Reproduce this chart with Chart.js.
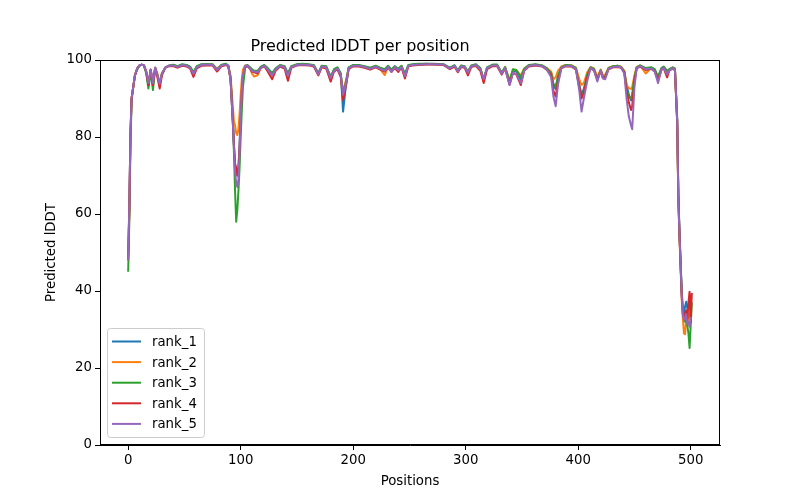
<!DOCTYPE html>
<html>
<head>
<meta charset="utf-8">
<script src="https://cdn.jsdelivr.net/npm/chart.js@4.4.1/dist/chart.umd.min.js"></script>
<style>
  body { margin: 0; background: #fff; }
  canvas { display: block; }
</style>
</head>
<body>
<canvas id="plddt" width="800" height="500"></canvas>
<script>
var positions = [
  0,1,2,3,4,5,6,8,10,12,14,16,18,20,22,24,26,28,30,33,36,
  40,44,48,52,55,58,61,65,70,75,79,83,87,
  89,91,93,94,95,96,97,98,99,100,101,102,104,
  106,108,110,112,115,118,121,124,128,131,135,139,142,145,150,155,160,165,169,172,176,180,183,186,189,191,193,196,200,
  205,210,215,220,224,228,231,234,237,240,243,246,249,253,258,265,272,280,
  286,290,293,296,299,302,305,309,313,316,319,324,328,332,335,339,342,345,349,352,356,362,368,372,
  376,378,380,382,385,389,394,398,401,403,405,408,411,414,417,420,422,424,427,431,435,438,
  441,443,445,447,448,450,452,455,460,465,468,471,474,476,479,481,484,486,
  488,489,490,491,492,493,494,495,496,497,498,499,500,501
];

var rank1 = [
  49,62,80,90,92,94,96,97.8,98.5,98.8,98.6,97,93.5,97.5,93.5,98,96,93.5,96.5,98,98.5,
  98.7,98.3,98.8,98.6,98.2,96.8,98.3,98.8,98.9,98.8,97.6,98.7,98.9,
  98.5,95,84,78,73,71,70,72,78,86,92,96,98.5,
  98.6,98.0,97.5,97.0,97.0,98.2,98.6,97.8,96.5,97.8,98.6,98.3,96.5,98.3,98.8,98.9,98.8,98.6,96.5,98.4,98.3,95.6,97.5,98.0,96.5,86.6,92.0,98.0,98.6,
  98.6,98.3,97.9,98.4,97.9,97.5,98.4,97.4,98.3,97.6,98.4,96.2,98.6,98.8,98.9,99.0,98.9,98.9,
  97.9,98.6,97.2,98.5,98.3,96.9,98.5,98.8,97.8,94.8,98.0,98.7,98.7,96.6,98.0,94.2,97.2,97.0,95.0,97.5,98.6,98.8,98.5,97.8,
  96.5,93.5,92.5,95.5,98.0,98.6,98.5,97.8,93.5,91.0,92.5,96.0,98.0,97.6,95.2,97.4,95.6,95.8,97.8,98.3,98.4,98.2,
  97.0,93.5,91.0,89.5,90.5,95.0,98.0,98.5,97.8,98.0,97.5,95.5,97.8,98.2,97.0,97.5,98.0,97.6,
  85,66,56,48,40,35,34,36,37.2,35.5,36.5,35.5,37,37
];

var rank2 = [
  50,60,79,90,92,94,96,97.8,98.6,98.8,98.6,97,94,97.5,94,98,96.5,94,96.5,98,98.5,
  98.6,98.4,98.7,98.5,98.0,96.5,98.2,98.7,98.8,98.8,97.8,98.6,98.8,
  98.5,96,88,84,83,81,80.5,82,86,91,95,97.5,98.6,
  98.6,98.0,96.5,95.7,96.0,98.0,98.6,97.6,96.2,97.6,98.5,98.2,96.0,98.2,98.7,98.8,98.8,98.5,96.3,98.2,98.2,95.5,97.4,97.9,96.0,92.0,94.0,97.8,98.5,
  98.5,98.2,97.7,98.3,97.6,96.1,98.2,97.2,98.2,97.4,98.3,96.0,98.5,98.7,98.8,98.9,98.9,98.8,
  97.8,98.5,97.0,98.4,98.2,96.8,98.4,98.7,97.7,94.8,97.9,98.6,98.6,96.5,98.1,94.5,97.5,97.3,96.0,97.8,98.6,98.8,98.5,97.9,
  97.0,95.0,95.5,97.2,98.3,98.7,98.6,98.0,95.0,93.5,94.0,96.8,98.2,97.8,95.6,97.5,96.0,96.2,98.0,98.4,98.5,98.3,
  97.2,93.5,92.7,92.5,93.0,96.0,98.2,98.6,96.5,98.0,97.3,95.3,97.6,98.1,96.6,97.4,98.0,97.5,
  84,64,54,46,38,33,29,28.8,33,31,34,33,36,36
];

var rank3 = [
  45,58,78,89,92,94,96,97.5,98.5,98.8,98.6,96.5,92.6,97,92.2,97.8,96,93.5,96.5,98,98.5,
  98.8,98.4,98.9,98.7,98.3,96.8,98.4,98.9,98.9,98.9,97.5,98.8,99.0,
  98.5,95.5,85,76,66,58,61,66,72,80,87,93,98,
  98.7,98.2,97.6,97.2,97.2,98.3,98.7,97.9,96.6,97.8,98.7,98.4,96.4,98.4,98.9,99.0,98.9,98.7,96.6,98.5,98.4,95.6,97.6,98.1,96.4,91.0,93.5,98.1,98.7,
  98.7,98.4,98.0,98.5,98.0,97.6,98.5,97.5,98.4,97.7,98.5,96.4,98.7,98.9,99.0,99.0,99.0,98.9,
  98.0,98.6,97.3,98.6,98.4,97.0,98.6,98.9,97.9,95.0,98.1,98.8,98.8,96.7,98.2,94.6,97.6,97.4,95.5,97.7,98.7,98.9,98.6,97.9,
  96.5,93.8,93.0,95.8,98.1,98.7,98.6,97.9,93.0,90.5,92.0,96.2,98.1,97.7,94.8,97.3,95.3,95.6,97.9,98.4,98.5,98.2,
  97.0,92.5,90.5,90.0,91.0,95.5,98.1,98.6,97.9,98.1,97.6,95.6,97.9,98.3,97.2,97.6,98.1,97.8,
  84,65,55,47,40,35,33,32,33,31,29,25.2,31,37
];

var rank4 = [
  48,61,81,90,92,94,96,97.8,98.6,98.8,98.6,97,93.5,97.5,93.5,98,95.5,92.6,96,98,98.4,
  98.4,98.0,98.5,98.3,97.8,95.6,97.8,98.5,98.6,98.6,97.0,98.4,98.7,
  98.3,95,84,78,73,72,70,72,77,85,92,96,98.3,
  98.4,97.8,97.0,96.8,96.5,97.9,98.4,97.0,95.0,97.2,98.3,97.8,94.6,98.0,98.6,98.7,98.6,98.3,96.0,98.1,97.8,94.4,97.0,97.6,95.5,89.6,92.5,97.6,98.4,
  98.3,98.0,97.5,98.1,97.5,97.0,98.0,96.9,97.9,96.9,98.0,95.2,98.3,98.6,98.7,98.8,98.8,98.7,
  97.6,98.3,96.8,98.2,98.0,96.0,98.2,98.5,97.2,94.0,97.6,98.4,98.4,96.2,97.8,93.6,96.6,96.3,93.5,97.2,98.3,98.6,98.3,97.5,
  96.0,92.0,90.5,94.5,97.8,98.4,98.3,97.5,93.0,90.0,91.5,95.5,97.8,97.3,95.0,97.2,95.4,95.4,97.6,98.1,98.2,98.0,
  96.8,92.0,89.0,87.0,88.0,94.5,97.8,98.3,97.4,97.7,97.0,94.8,97.4,97.9,95.5,97.2,97.8,97.3,
  84,65,55,47,39,34,33,34,35,32,37,39.8,31.8,39.5
];

var rank5 = [
  48,62,80,90,92,94,96,97.8,98.6,98.8,98.6,97,94,97.5,94,98,96,93.8,96.5,98,98.5,
  98.6,98.2,98.7,98.5,98.0,96.4,98.1,98.7,98.8,98.7,97.4,98.6,98.8,
  98.5,95,84,77,71,68,67,69,76,85,92,96,98.5,
  98.5,97.9,97.2,97.0,96.8,98.0,98.5,97.5,96.0,97.5,98.5,98.1,95.8,98.2,98.7,98.8,98.7,98.5,96.3,98.3,98.1,95.3,97.2,97.8,96.0,91.0,93.0,97.9,98.5,
  98.5,98.2,97.7,98.3,97.7,97.2,98.2,96.9,98.2,97.3,98.2,95.8,98.5,98.7,98.8,98.9,98.9,98.8,
  97.8,98.5,97.0,98.4,98.2,96.7,98.4,98.7,97.6,95.0,97.9,98.6,98.6,96.4,97.9,93.5,96.6,96.4,94.0,97.3,98.5,98.7,98.4,97.6,
  95.5,90.5,88.0,93.5,97.9,98.5,98.4,97.6,92.0,86.6,90.0,94.5,97.9,97.4,94.4,97.2,95.2,95.0,97.7,98.2,98.3,98.1,
  96.5,90.0,85.3,83.0,82.0,93.0,97.9,98.4,97.6,97.8,97.0,94.0,97.5,98.0,96.2,97.3,97.9,97.4,
  84,64,55,47,39,34,32.5,33,34,31.5,32,30.7,33,33
];

var rankNames = ["rank_1", "rank_2", "rank_3", "rank_4", "rank_5"];
var rankValues = [rank1, rank2, rank3, rank4, rank5];
var rankColors = ["#1f77b4", "#ff7f0e", "#2ca02c", "#d62728", "#9467bd"];

var xTicks = [0, 100, 200, 300, 400, 500];
var yTicks = [0, 20, 40, 60, 80, 100];

var FONT = "'DejaVu Sans', sans-serif";

var datasets = [];
for (let i = 0; i < rankNames.length; i++) {
    var pts = [];
    for (let j = 0; j < positions.length; j++) {
        pts.push({x: positions[j], y: rankValues[i][j]});
    }
    datasets.push({
        label: rankNames[i],
        data: pts,
        borderColor: rankColors[i],
        backgroundColor: rankColors[i],
        borderWidth: 2,
        borderJoinStyle: "round",
        pointRadius: 0,
        tension: 0,
        fill: false,
        order: rankNames.length - i   // later ranks on top, like matplotlib
    });
}

// frame round the plot area + legend box in the lower left
var framePlugin = {
    id: "frame",
    afterDraw: function(chart) {
        var ctx = chart.ctx;
        var a = chart.chartArea;
        ctx.save();
        ctx.strokeStyle = "#000";
        ctx.lineWidth = 1;
        ctx.strokeRect(Math.round(a.left) + 0.5, Math.round(a.top) + 0.5,
                       Math.round(a.right - a.left) - 1, Math.round(a.bottom - a.top) - 1);

        // legend
        var bx = 107.5, by = 328.5, bw = 97, bh = 109, r = 3;
        ctx.beginPath();
        ctx.moveTo(bx + r, by);
        ctx.lineTo(bx + bw - r, by);
        ctx.quadraticCurveTo(bx + bw, by, bx + bw, by + r);
        ctx.lineTo(bx + bw, by + bh - r);
        ctx.quadraticCurveTo(bx + bw, by + bh, bx + bw - r, by + bh);
        ctx.lineTo(bx + r, by + bh);
        ctx.quadraticCurveTo(bx, by + bh, bx, by + bh - r);
        ctx.lineTo(bx, by + r);
        ctx.quadraticCurveTo(bx, by, bx + r, by);
        ctx.closePath();
        ctx.fillStyle = "rgba(255,255,255,0.8)";
        ctx.fill();
        ctx.strokeStyle = "#cccccc";
        ctx.stroke();

        ctx.font = "13.3px " + FONT;
        ctx.textBaseline = "middle";
        ctx.textAlign = "left";
        for (let i = 0; i < rankNames.length; i++) {
            var yy = 341.5 + i * 20.6;
            ctx.beginPath();
            ctx.strokeStyle = rankColors[i];
            ctx.lineWidth = 2;
            ctx.moveTo(112, yy);
            ctx.lineTo(141, yy);
            ctx.stroke();
            ctx.fillStyle = "#000";
            ctx.fillText(rankNames[i], 152, yy + 1);
        }
        ctx.restore();
    }
};

var chart = new Chart(document.getElementById("plddt"), {
    type: "line",
    data: {datasets: datasets},
    options: {
        responsive: false,
        animation: false,
        devicePixelRatio: 1,
        layout: {padding: {left: 0, right: 80, top: 0, bottom: 0}},
        plugins: {
            legend: {display: false},
            tooltip: {enabled: false},
            title: {
                display: true,
                text: "Predicted lDDT per position",
                color: "#000",
                font: {family: FONT, size: 16, weight: "normal"},
                padding: {top: 37.5, bottom: 3.3}
            }
        },
        scales: {
            x: {
                type: "linear",
                min: -25.05,
                max: 526.05,
                afterBuildTicks: function(scale) {
                    scale.ticks = xTicks.map(function(v) { return {value: v}; });
                },
                afterFit: function(scale) { scale.height = 55; },
                ticks: {
                    color: "#000",
                    font: {family: FONT, size: 13.3},
                    padding: 3,
                    maxRotation: 0
                },
                grid: {drawOnChartArea: false, drawTicks: true, tickLength: 5, color: "#000"},
                border: {display: true, color: "#000"},
                title: {
                    display: true,
                    text: "Positions",
                    color: "#000",
                    font: {family: FONT, size: 13.3},
                    padding: {top: 0, bottom: 10}
                }
            },
            y: {
                type: "linear",
                min: 0,
                max: 100,
                afterBuildTicks: function(scale) {
                    scale.ticks = yTicks.map(function(v) { return {value: v}; });
                },
                afterFit: function(scale) { scale.width = 100; },
                ticks: {
                    color: "#000",
                    font: {family: FONT, size: 13.3},
                    padding: 3
                },
                grid: {drawOnChartArea: false, drawTicks: true, tickLength: 5, color: "#000"},
                border: {display: true, color: "#000"},
                title: {
                    display: true,
                    text: "Predicted lDDT",
                    color: "#000",
                    font: {family: FONT, size: 13.3},
                    padding: {top: 44, bottom: 0}
                }
            }
        }
    },
    plugins: [framePlugin]
});
</script>
</body>
</html>
